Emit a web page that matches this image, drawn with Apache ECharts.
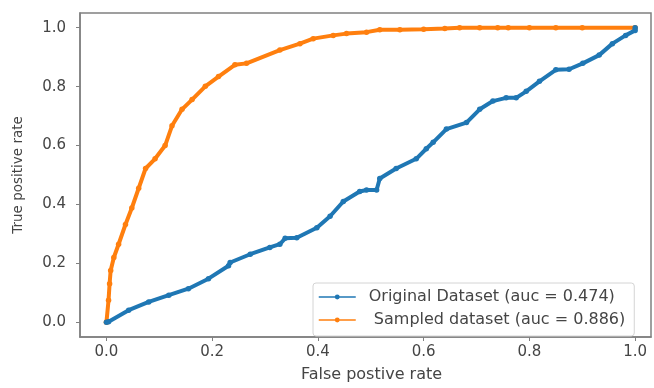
<!DOCTYPE html>
<html>
<head>
<meta charset="utf-8">
<script src="https://cdn.jsdelivr.net/npm/echarts@6/dist/echarts.min.js"></script>
<style>html,body{margin:0;padding:0;background:#fff}#c{width:654px;height:388px}</style>
</head>
<body>
<div id="c"></div>
<script>
// Tick labels
var xTicks = [0, 0.2, 0.4, 0.6, 0.8, 1.0];
var yTicks = [0, 0.2, 0.4, 0.6, 0.8, 1.0];

// Series names
var nameOriginal = 'Original Dataset (auc = 0.474)';
var nameSampled = ' Sampled dataset (auc = 0.886)';

// Original dataset ROC: [FPR, TPR]
var originalFpr = [0.0, 0.004, 0.042, 0.08, 0.118, 0.155, 0.193, 0.231, 0.234, 0.272, 0.309, 0.328, 0.338, 0.36, 0.398, 0.423, 0.448, 0.479, 0.492, 0.511, 0.517, 0.548, 0.586, 0.605, 0.618, 0.643, 0.681, 0.706, 0.731, 0.756, 0.775, 0.794, 0.819, 0.85, 0.875, 0.901, 0.932, 0.957, 0.982, 1.0, 1.0];
var originalTpr = [0.0, 0.002, 0.041, 0.069, 0.092, 0.114, 0.148, 0.192, 0.203, 0.231, 0.254, 0.265, 0.285, 0.287, 0.321, 0.36, 0.41, 0.444, 0.449, 0.449, 0.488, 0.522, 0.555, 0.589, 0.611, 0.656, 0.678, 0.723, 0.751, 0.762, 0.762, 0.784, 0.818, 0.857, 0.859, 0.879, 0.907, 0.946, 0.974, 0.991, 1.0];

// Sampled dataset ROC: [FPR, TPR]
var sampledFpr = [0.0, 0.001, 0.004, 0.006, 0.008, 0.014, 0.023, 0.036, 0.048, 0.061, 0.074, 0.092, 0.111, 0.124, 0.143, 0.162, 0.187, 0.212, 0.243, 0.265, 0.328, 0.366, 0.391, 0.429, 0.454, 0.492, 0.517, 0.555, 0.6, 0.64, 0.668, 0.706, 0.74, 0.76, 0.8, 0.85, 0.9, 1.0];
var sampledTpr = [0.0, 0.002, 0.075, 0.131, 0.176, 0.22, 0.265, 0.332, 0.388, 0.455, 0.522, 0.555, 0.6, 0.667, 0.723, 0.756, 0.801, 0.834, 0.874, 0.879, 0.924, 0.946, 0.963, 0.974, 0.98, 0.985, 0.993, 0.993, 0.995, 0.997, 1.0, 1.0, 1.0, 1.0, 1.0, 1.0, 1.0, 1.0];

function pairs(xs, ys) { return xs.map(function (x, i) { return [x, ys[i]]; }); }

var FONT = 'DejaVu Sans';
var TXT = '#454545';
var AX = '#808080';
var chart = echarts.init(document.getElementById('c'), null, { renderer: 'canvas' });
chart.setOption({
  animation: false,
  backgroundColor: '#ffffff',
  textStyle: { fontFamily: FONT },
  grid: { left: 80, top: 13, right: 3, bottom: 47, show: true, borderColor: AX, borderWidth: 1.5, containLabel: false },
  xAxis: {
    type: 'value', min: -0.05, max: 1.03,
    name: 'False postive rate', nameLocation: 'middle', nameGap: 30,
    nameTextStyle: { fontFamily: FONT, fontSize: 16, color: TXT, padding: [0, 0, 0, 12] },
    axisLine: { show: true, onZero: false, lineStyle: { color: AX, width: 1.5 } },
    axisTick: { show: true, length: 4, customValues: xTicks, lineStyle: { color: AX } },
    axisLabel: { customValues: xTicks, margin: 8, fontFamily: FONT, fontSize: 15, color: TXT,
      formatter: function (v) { return v.toFixed(1); } },
    splitLine: { show: false }
  },
  yAxis: {
    type: 'value', min: -0.05, max: 1.05,
    name: 'True positive rate', nameLocation: 'middle', nameGap: 55,
    nameTextStyle: { fontFamily: FONT, fontSize: 13.5, color: TXT },
    axisLine: { show: true, onZero: false, lineStyle: { color: AX, width: 1.5 } },
    axisTick: { show: true, length: 4, customValues: yTicks, lineStyle: { color: AX } },
    axisLabel: { customValues: yTicks, margin: 14, fontFamily: FONT, fontSize: 15, color: TXT,
      formatter: function (v) { return v.toFixed(1); } },
    splitLine: { show: false }
  },
  legend: {
    orient: 'vertical', left: 313, top: 283,
    backgroundColor: '#ffffff', borderColor: '#d4d4d4', borderWidth: 1, borderRadius: 3,
    padding: [5, 9, 7, 5], itemGap: 5, itemWidth: 37, itemHeight: 6,
    lineStyle: { width: 1.5 },
    textStyle: { fontFamily: FONT, fontSize: 16, lineHeight: 18, color: TXT, padding: [0, 0, 0, 8] },
    data: [nameOriginal, nameSampled]
  },
  series: [
    {
      name: nameOriginal, type: 'line', data: pairs(originalFpr, originalTpr),
      color: '#1f77b4', symbol: 'circle', symbolSize: 5.5, showSymbol: true,
      lineStyle: { width: 4, color: '#1f77b4' }, itemStyle: { color: '#1f77b4' }, z: 3
    },
    {
      name: nameSampled, type: 'line', data: pairs(sampledFpr, sampledTpr),
      color: '#ff7f0e', symbol: 'circle', symbolSize: 5.5, showSymbol: true,
      lineStyle: { width: 4, color: '#ff7f0e' }, itemStyle: { color: '#ff7f0e' }, z: 2
    }
  ]
});
</script>
</body>
</html>
